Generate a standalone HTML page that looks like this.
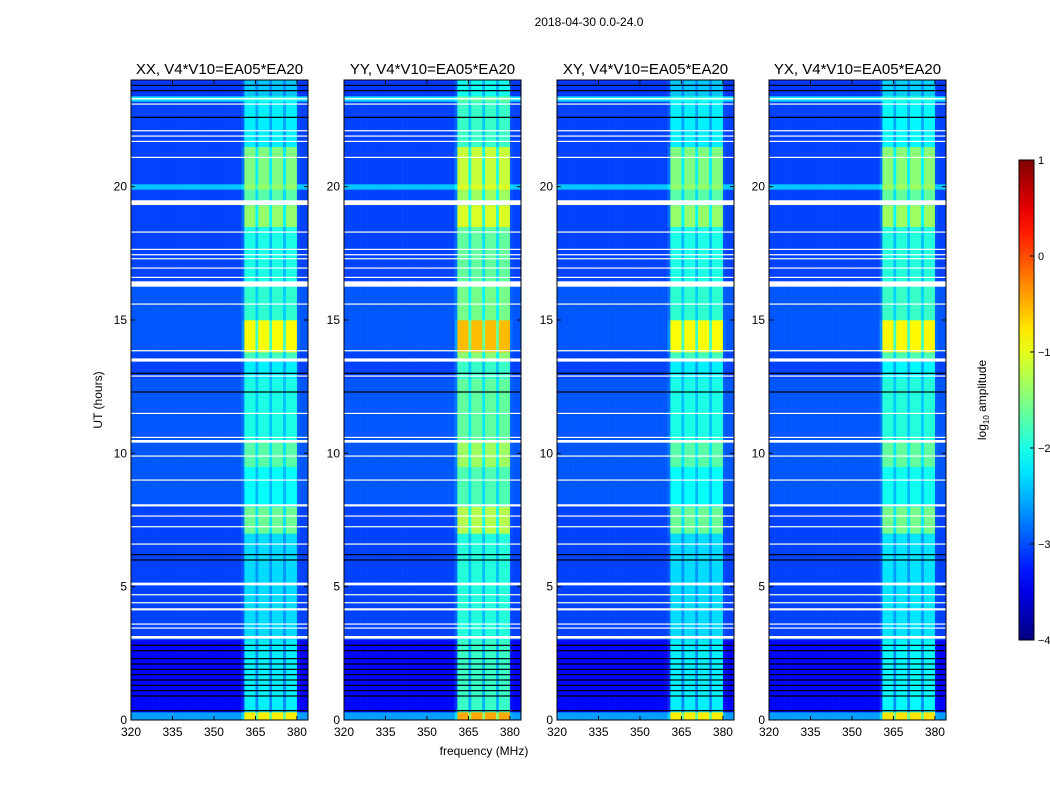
<!DOCTYPE html>
<html><head><meta charset="utf-8"><style>
body{margin:0;background:#fff}
svg text{font-family:"Liberation Sans",sans-serif;fill:#000}
</style></head><body>
<svg id="c" width="1050" height="800" viewBox="0 0 1050 800" xmlns="http://www.w3.org/2000/svg">
<text x="589" y="26" font-size="12" text-anchor="middle">2018-04-30 0.0-24.0</text>
<text transform="translate(102,400) rotate(-90)" font-size="12" text-anchor="middle">UT (hours)</text>
<text x="484" y="755" font-size="12" text-anchor="middle">frequency (MHz)</text>
<text transform="translate(986,400) rotate(-90)" font-size="12" text-anchor="middle">log<tspan font-size="8" dy="3">10</tspan><tspan dy="-3"> amplitude</tspan></text>
</svg>
<script>
const panelTitles=["XX, V4*V10=EA05*EA20","YY, V4*V10=EA05*EA20","XY, V4*V10=EA05*EA20","YX, V4*V10=EA05*EA20"];
const panelLeft=[131,344,557,769];
const panelBoost=[0,0.35,0,0.05];
const xTicks=[320,335,350,365,380];
const yTicks=[0,5,10,15,20];
const cbTicks=[1,0,-1,-2,-3,-4];
// channel profile (1 MHz channels from 320 to 383): fraction of band level
const channelProfile=[0,0,0,0,0,0,0,0,0,0,0,0,0,0,0,0,0,0,0,0,0,0,0,0,0,0,0,0,0,0,0,0,0,0,0,0,0,0,0,0,0.15,1,1,1,1,0.55,1,1,1,1,0.55,1,1,1,1,0.55,1,1,1,1,0.05,0,0,0];
// time segments: start hour, end hour, background log level, band log level
const segStart=[0,0.3,3.0,7.0,8.0,9.5,10.5,12.8,13.5,13.8,15.0,16.4,18.5,19.3,19.9,20.1,21.5,23.2,23.4];
const segEnd=[0.3,3.0,7.0,8.0,9.5,10.5,12.8,13.5,13.8,15.0,16.4,18.5,19.3,19.9,20.1,21.5,23.2,23.4,24];
const segBg=[-2.6,-3.35,-3.05,-3.05,-2.95,-2.95,-2.95,-3.05,-3.05,-2.95,-2.95,-3.05,-3.05,-3.05,-2.4,-3.05,-3.05,-2.3,-3.1];
const segBand=[-0.8,-2.2,-2.3,-1.6,-2.1,-1.7,-2.0,-2.2,-1.8,-0.9,-1.9,-2.0,-1.4,-1.7,-1.4,-1.5,-2.2,-2.0,-2.4];
const whiteHours=[3.1,3.45,3.6,4.15,4.4,4.7,5.1,6.6,7.25,7.65,8.05,9.0,9.9,10.45,10.6,11.5,12.9,13.5,13.85,15.6,16.35,16.6,16.95,17.3,17.45,17.65,18.3,19.4,21.1,21.7,21.9,22.1,23.1,23.3];
const whiteWidth=[0.1,0.04,0.04,0.08,0.04,0.04,0.1,0.04,0.04,0.04,0.08,0.04,0.04,0.1,0.04,0.04,0.04,0.12,0.04,0.04,0.2,0.04,0.04,0.04,0.04,0.04,0.04,0.18,0.04,0.04,0.04,0.04,0.04,0.06];
const blackHours=[0.35,0.9,1.1,1.3,1.5,1.7,1.9,2.1,2.3,2.6,2.8,6.0,6.2,12.3,13.0,22.6,23.6,23.8];

const NS="http://www.w3.org/2000/svg";
const svg=document.getElementById('c');
const W=177,TOP=80,BOT=720;
const fmin=320,fmax=384,tmax=24;
function xs(f,L){return L+(f-fmin)/(fmax-fmin)*W;}
function ys(h){return BOT-h/tmax*(BOT-TOP);}
function jet(v){let x=Math.max(0,Math.min(1,(v+4)/5));
 const c=k=>Math.round(255*Math.max(0,Math.min(1,1.5-Math.abs(4*x-k))));
 return `rgb(${c(3)},${c(2)},${c(1)})`;}
function mk(tag,attrs,parent){const e=document.createElementNS(NS,tag);for(const k in attrs)e.setAttribute(k,attrs[k]);(parent||svg).appendChild(e);return e;}

panelLeft.forEach((L,p)=>{
 const g=mk('g',{});
 
 
 for(let s=0;s<segStart.length;s++){
  const y0=ys(segEnd[s]),y1=ys(segStart[s]);
  for(let c=0;c<channelProfile.length;c++){
   const bl=segBand[s]+panelBoost[p];
   const v=segBg[s]+(bl-segBg[s])*channelProfile[c];
   const x0=xs(fmin+c,L),x1=xs(fmin+c+1,L);
   const r=mk('rect',{x:x0.toFixed(2),y:y0.toFixed(2),width:(x1-x0+0.3).toFixed(2),height:(y1-y0+0.3).toFixed(2),fill:jet(v)},g);
   
   
  }
 }
 blackHours.forEach(h=>{
  const r=mk('rect',{x:L,y:ys(h)-0.6,width:W,height:1.2,fill:'#000'},g);
  
  
 });
 whiteHours.forEach((h,i)=>{
  const y0=ys(h+whiteWidth[i]/2),y1=ys(h-whiteWidth[i]/2);
  const r=mk('rect',{x:L,y:y0,width:W,height:Math.max(1.2,y1-y0),fill:'#fff'},g);
  
  
 });
 const fr=mk('rect',{x:L,y:TOP,width:W,height:BOT-TOP,fill:'none',stroke:'#000','stroke-width':1},g);
 
 
 const t=mk('text',{x:L+W/2,y:74,'font-size':15,'text-anchor':'middle'},g);
 t.textContent=panelTitles[p];
 
 
 xTicks.forEach(f=>{
  const x=xs(f,L);
  mk('line',{x1:x,x2:x,y1:BOT,y2:BOT-4,stroke:'#000'},g);
  mk('line',{x1:x,x2:x,y1:TOP,y2:TOP+4,stroke:'#000'},g);
  const tt=mk('text',{x:x,y:BOT+16,'font-size':12,'text-anchor':'middle'},g);
  tt.textContent=f;
  
  
 });
 yTicks.forEach(h=>{
  const y=ys(h);
  mk('line',{x1:L,x2:L+4,y1:y,y2:y,stroke:'#000'},g);
  mk('line',{x1:L+W,x2:L+W-4,y1:y,y2:y,stroke:'#000'},g);
  const tt=mk('text',{x:L-4,y:y+4,'font-size':12,'text-anchor':'end'},g);
  tt.textContent=h;
  
  
 });
});
// colorbar
const defs=mk('defs',{});
const grad=mk('linearGradient',{id:'jetg',x1:0,y1:1,x2:0,y2:0},defs);
for(let i=0;i<=20;i++){mk('stop',{offset:i/20,'stop-color':jet(-4+5*i/20)},grad);}
const cb=mk('rect',{x:1019,y:160,width:15,height:480,fill:'url(#jetg)',stroke:'#000'});


cbTicks.forEach(v=>{
 const y=640-(v+4)/5*480;
 mk('line',{x1:1030,x2:1034,y1:y,y2:y,stroke:'#000'});
 const t=mk('text',{x:1038,y:y+4,'font-size':11});
 t.textContent=v<0?'\u2212'+(-v):v;
 
 
});
</script>
</body></html>
